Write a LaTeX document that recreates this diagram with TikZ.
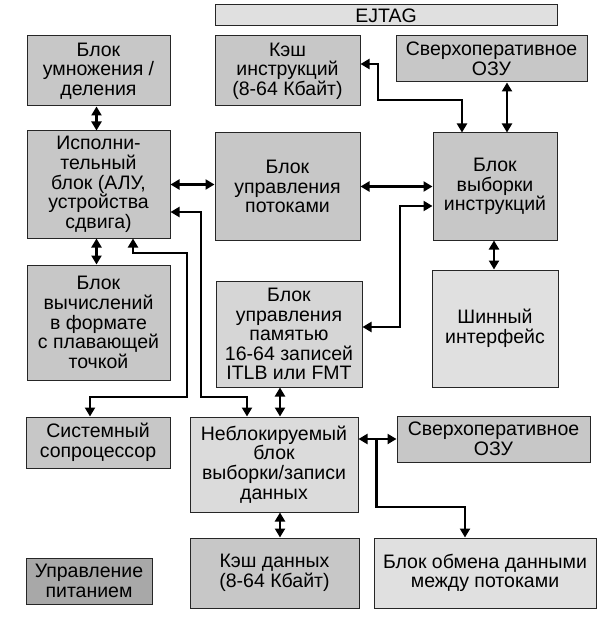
\documentclass[tikz,border=0pt]{standalone}
\usepackage{fontspec}
\setmainfont{Liberation Sans}
\usetikzlibrary{arrows.meta}
\definecolor{blkdark}{gray}{0.78}
\definecolor{blklight}{gray}{0.88}
\definecolor{blkpwr}{gray}{0.66}
\tikzset{
  blk/.style={draw=black!85, line width=1pt, fill=blkdark, inner sep=0pt, align=center,
    font=\fontsize{19.5}{19.6}\selectfont},
  lite/.style={blk, fill=blklight},
  bus/.style={line width=2.6pt, <->},
  bus1/.style={line width=2.6pt, ->},
}
\begin{document}
\begin{tikzpicture}[x=1pt, y=-1pt, >={Triangle[length=9pt,width=10pt]}]
  \useasboundingbox (0,0) rectangle (614,620);
  % top row
  \node[lite, minimum width=342pt, minimum height=21pt] (ejtag) at (386,15.5) {EJTAG};
  \node[blk, minimum width=143pt, minimum height=70pt] (mul) at (98.5,71) {Блок\\умножения /\\деления};
  \node[blk, minimum width=145pt, minimum height=70pt] (icache) at (287.5,71) {Кэш\\инструкций\\(8-64 Кбайт)};
  \node[blk, minimum width=191pt, minimum height=46pt] (sramA) at (491.5,59) {Сверхоперативное\\ОЗУ};
  % middle row
  \node[blk, minimum width=143pt, minimum height=107pt] (exec) at (98.5,184.5) {Исполни-\\тельный\\блок (АЛУ,\\устройства\\сдвига)};
  \node[blk, minimum width=145pt, minimum height=107pt] (thr) at (287.5,186.5) {Блок\\управления\\потоками};
  \node[blk, minimum width=124pt, minimum height=107pt] (ifu) at (495,186.5) {Блок\\выборки\\инструкций};
  \node[blk, minimum width=143pt, minimum height=115pt] (fpu) at (98.5,322.5) {Блок\\вычислений\\в формате\\с плавающей\\точкой};
  \node[lite, fill=black!16, minimum width=146pt, minimum height=106pt] (mmu) at (289,334) {Блок\\управления\\памятью\\16-64 записей\\ITLB или FMT};
  \node[lite, minimum width=126pt, minimum height=117pt] (biu) at (495,328.5) {Шинный\\интерфейс};
  % lower rows
  \node[blk, minimum width=144pt, minimum height=51pt] (cop) at (98,442.5) {Системный\\сопроцессор};
  \node[lite, fill=black!14, minimum width=168pt, minimum height=95pt] (lsu) at (274,464.5) {Неблокируемый\\блок\\выборки/записи\\данных};
  \node[blk, minimum width=193pt, minimum height=46pt] (sramB) at (493.5,439) {Сверхоперативное\\ОЗУ};
  \node[blk, minimum width=169pt, minimum height=70pt] (dcache) at (274.5,573) {Кэш данных\\(8-64 Кбайт)};
  \node[lite, minimum width=222pt, minimum height=70pt] (xchg) at (485,573) {Блок обмена данными\\между потоками};
  \node[blk, fill=blkpwr, minimum width=126pt, minimum height=46pt] (pwr) at (89,581) {Управление\\питанием};

  % connections
  \draw[bus] ([xshift=-2pt]mul.south) -- ([xshift=-2pt]exec.north);
  \draw[bus] ([xshift=-2pt]exec.south) -- ([xshift=-2pt]fpu.north);
  \draw[bus] (exec.east) -- (exec.east -| thr.west);
  \draw[bus] (thr.east) -- (ifu.west);
  \draw[bus] ([yshift=7pt]icache.east) -| (378,100) -| ([xshift=-33pt]ifu.north);
  \draw[bus] ([xshift=12pt]ifu.north) -- ([xshift=12pt]ifu.north |- sramA.south);
  \draw[bus] ([xshift=-1pt]ifu.south) -- ([xshift=-1pt]biu.north);
  \draw[bus] ([yshift=7pt]mmu.east) -| (400,206) -- ([yshift=-19.5pt]ifu.west);
  \draw[bus] ([yshift=-27.5pt]exec.east) -| (201,397) -| ([xshift=-27pt]lsu.north);
  \draw[bus] ([xshift=34.5pt]exec.south) |- (187,253) |- (90,397) -- ([xshift=-8pt]cop.north);
  \draw[bus] ([xshift=-9pt]mmu.south) -- ([xshift=-9pt]mmu.south |- lsu.north);
  \draw[bus] (sramB.west) -- (sramB.west -| lsu.east);
  \draw[bus1] ([xshift=-20pt]sramB.west) |- (465,507) -- ([xshift=-20pt]xchg.north);
  \draw[bus] ([xshift=6pt]lsu.south) -- ([xshift=6pt]lsu.south |- dcache.north);
\end{tikzpicture}
\end{document}
